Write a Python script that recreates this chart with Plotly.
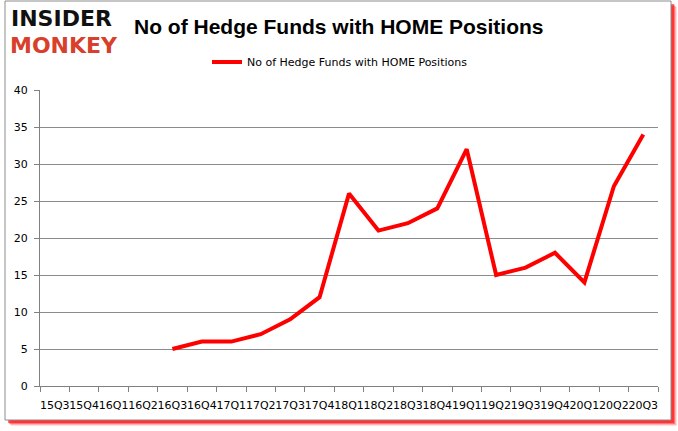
import plotly.graph_objects as go

quarters = ["15Q3", "15Q4", "16Q1", "16Q2", "16Q3", "16Q4", "17Q1", "17Q2", "17Q3",
            "17Q4", "18Q1", "18Q2", "18Q3", "18Q4", "19Q1", "19Q2", "19Q3", "19Q4",
            "20Q1", "20Q2", "20Q3"]
funds = [None, None, None, None, 5, 6, 6, 7, 9, 12, 26, 21, 22, 24, 32, 15, 16, 18, 14, 27, 34]
series_name = "No of Hedge Funds with HOME Positions"
y_ticks = [0, 5, 10, 15, 20, 25, 30, 35, 40]

W, H = 678, 431
L, R, T, B = 40, 658, 90, 386


def px(x):
    return (x - L) / (R - L)


def py(y):
    return (B - y) / (B - T)


fig = go.Figure()
fig.add_trace(go.Scatter(
    x=quarters, y=funds, mode="lines", name=series_name,
    line=dict(color="#ff0000", width=4), connectgaps=False,
))

shapes = []
# soft red shadow
for off, op in [(6, 0.12), (5, 0.2), (4, 0.35), (3, 0.55)]:
    shapes.append(dict(type="rect", xref="paper", yref="paper", layer="below",
                       x0=px(5 + off), x1=px(671 + off), y0=py(420 + off), y1=py(1 + off),
                       line=dict(width=0), fillcolor="rgba(255,0,0,%s)" % op))
shapes.append(dict(type="rect", xref="paper", yref="paper", layer="below",
                   x0=px(5), x1=px(671), y0=py(420), y1=py(1),
                   line=dict(color="#8c8c8c", width=1), fillcolor="white"))

annotations = [
    dict(text="INSIDER", xref="paper", yref="paper", x=px(9), y=py(19), xanchor="left",
         yanchor="middle", showarrow=False,
         font=dict(family="DejaVu Sans", size=22, color="#111111", weight="bold")),
    dict(text="MONKEY", xref="paper", yref="paper", x=px(8), y=py(46), xanchor="left",
         yanchor="middle", showarrow=False,
         font=dict(family="DejaVu Sans", size=22, color="#d8402c", weight="bold")),
    dict(text="No of Hedge Funds with HOME Positions", xref="paper", yref="paper",
         x=px(339), y=py(27), xanchor="center", yanchor="middle", showarrow=False,
         font=dict(family="Liberation Sans", size=21, color="#000000", weight="bold")),
]

fig.update_layout(
    width=W, height=H,
    margin=dict(l=L, r=W - R, t=T, b=H - B, pad=0),
    paper_bgcolor="white", plot_bgcolor="rgba(0,0,0,0)",
    shapes=shapes, annotations=annotations,
    showlegend=True,
    legend=dict(orientation="h", x=px(340), y=py(62), xanchor="center", yanchor="middle",
                font=dict(family="DejaVu Sans", size=11, color="#000000"),
                bgcolor="rgba(0,0,0,0)", itemwidth=30),
    xaxis=dict(type="category", categoryorder="array", categoryarray=quarters,
               range=[-0.5, 20.5], tickson="boundaries", ticks="outside", ticklen=5,
               tickcolor="#808080", showline=True, linecolor="#808080", linewidth=1,
               showgrid=False, tickangle=0, ticklabelstandoff=9,
               tickfont=dict(family="DejaVu Sans", size=11, color="#000000")),
    yaxis=dict(range=[0, 40], tickvals=y_ticks, ticks="outside", ticklen=5,
               tickcolor="#808080", showline=True, linecolor="#808080", linewidth=1,
               showgrid=True, gridcolor="#8c8c8c", gridwidth=1, zeroline=False,
               ticklabelstandoff=4,
               tickfont=dict(family="DejaVu Sans", size=11, color="#000000")),
)

fig.write_html("out.html", config={"displayModeBar": False},
               post_script="document.body.style.margin='0';")
